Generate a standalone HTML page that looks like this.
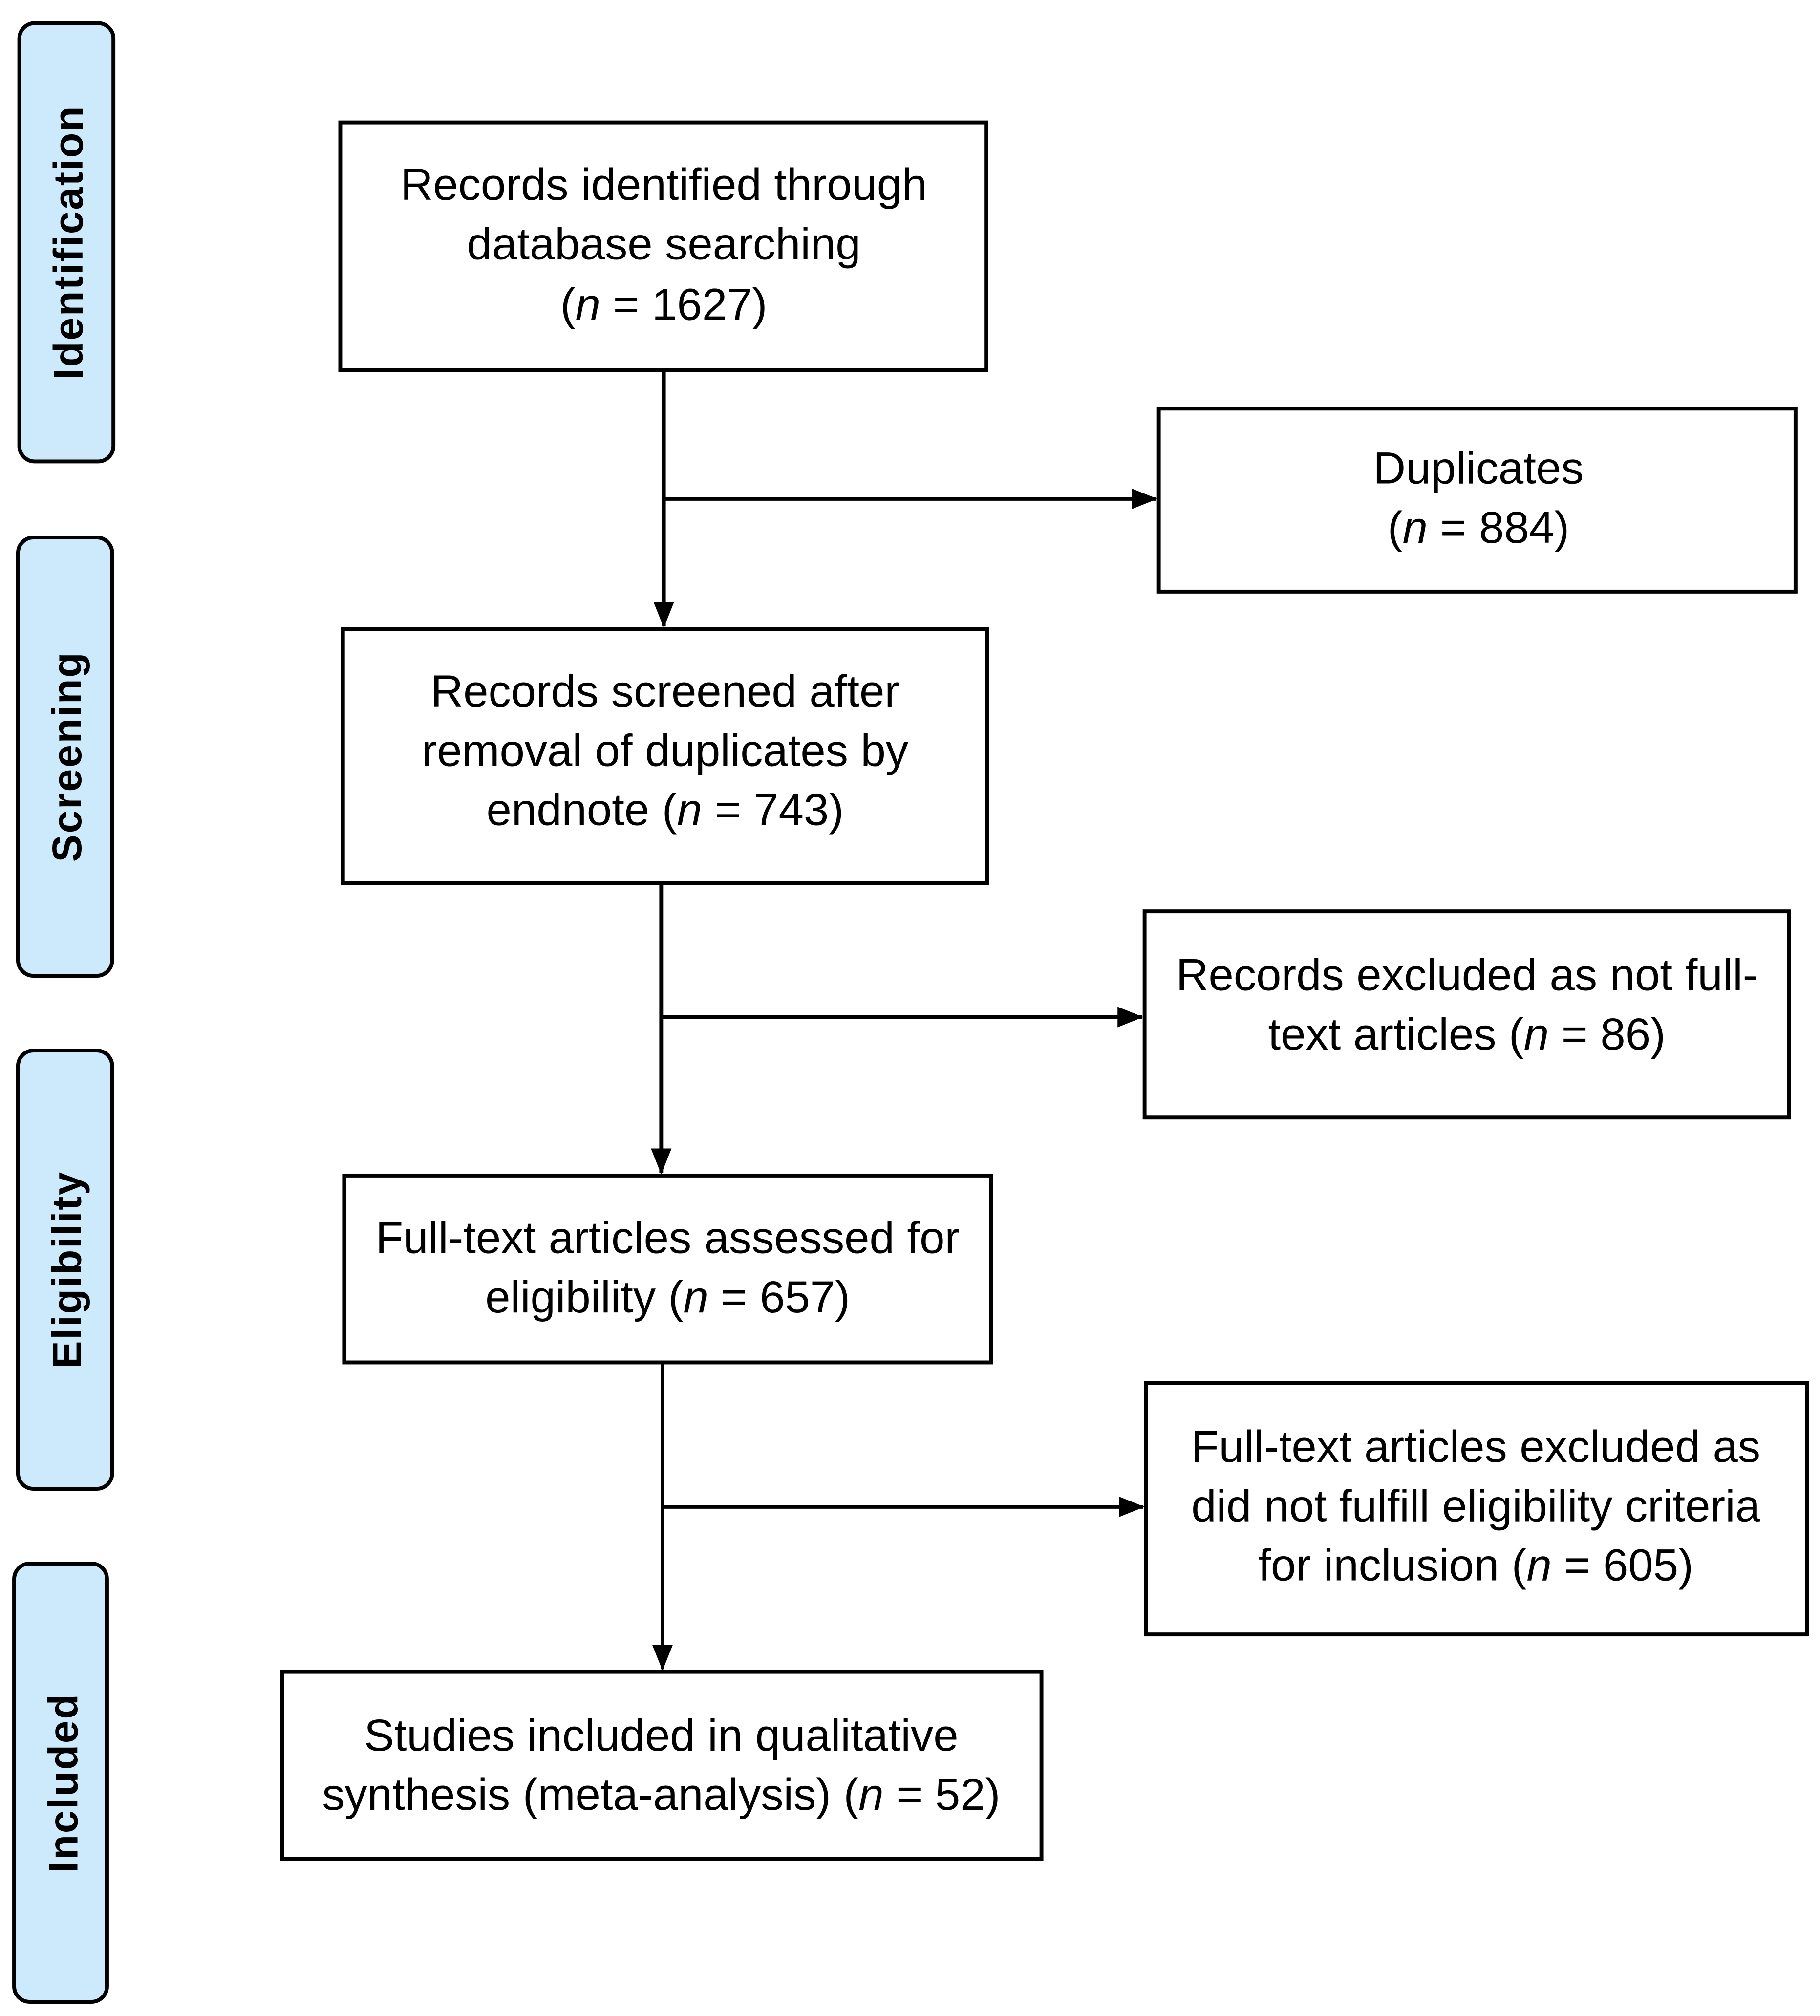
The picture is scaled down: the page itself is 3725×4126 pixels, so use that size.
<!DOCTYPE html>
<html><head><meta charset="utf-8"><style>
html,body{margin:0;padding:0;background:#fff;}
svg{display:block;}
text{font-family:"Liberation Sans",sans-serif;fill:#000;}
</style></head><body>
<svg width="3725" height="4126" viewBox="0 0 1412 1564" preserveAspectRatio="none" xmlns="http://www.w3.org/2000/svg">
<defs>
<marker id="b" markerWidth="20" markerHeight="20" refX="19" refY="8" orient="auto" markerUnits="userSpaceOnUse" viewBox="0 0 20 16"><path d="M0,0 L20,8 L0,16 z" fill="#000"/></marker></defs>
<g fill="#cdeafd" stroke="#000" stroke-width="3">
<rect x="15" y="18" width="73" height="340" rx="12"/>
<rect x="14" y="417" width="73" height="340" rx="12"/>
<rect x="14" y="815" width="73" height="340" rx="12"/>
<rect x="11" y="1213" width="72" height="340" rx="12"/>
</g>
<g font-weight="bold" font-size="32" text-anchor="middle" dominant-baseline="central" letter-spacing="1">
<text transform="translate(53,188) rotate(-90)">Identification</text>
<text transform="translate(52,587) rotate(-90)">Screening</text>
<text transform="translate(52,985) rotate(-90)">Eligibility</text>
<text transform="translate(49,1383) rotate(-90)">Included</text>
</g>
<g fill="#fff" stroke="#000" stroke-width="3">
<rect x="264" y="95" width="501" height="192"/>
<rect x="899" y="317" width="494" height="142"/>
<rect x="266" y="488" width="500" height="197"/>
<rect x="888" y="707" width="500" height="160"/>
<rect x="267" y="912" width="502" height="145"/>
<rect x="889" y="1073" width="513" height="195"/>
<rect x="219" y="1297" width="589" height="145"/>
</g>
<g stroke="#000" stroke-width="3" fill="none">
<line x1="515" y1="287" x2="515" y2="486" marker-end="url(#b)"/>
<line x1="515" y1="387" x2="897" y2="387" marker-end="url(#b)"/>
<line x1="513" y1="685" x2="513" y2="910" marker-end="url(#b)"/>
<line x1="513" y1="789" x2="886" y2="789" marker-end="url(#b)"/>
<line x1="514" y1="1057" x2="514" y2="1295" marker-end="url(#b)"/>
<line x1="514" y1="1169" x2="887" y2="1169" marker-end="url(#b)"/>
</g>
<g font-size="35" text-anchor="middle" dominant-baseline="central">
<text x="515" y="143">Records identified through</text>
<text x="515" y="189">database searching</text>
<text x="515" y="236">(<tspan font-style="italic">n</tspan> = 1627)</text>
<text x="1147" y="363">Duplicates</text>
<text x="1147" y="409">(<tspan font-style="italic">n</tspan> = 884)</text>
<text x="516" y="536">Records screened after</text>
<text x="516" y="582">removal of duplicates by</text>
<text x="516" y="628">endnote (<tspan font-style="italic">n</tspan> = 743)</text>
<text x="1138" y="756">Records excluded as not full-</text>
<text x="1138" y="802">text articles (<tspan font-style="italic">n</tspan> = 86)</text>
<text x="518" y="960">Full-text articles assessed for</text>
<text x="518" y="1006">eligibility (<tspan font-style="italic">n</tspan> = 657)</text>
<text x="1145" y="1122">Full-text articles excluded as</text>
<text x="1145" y="1168">did not fulfill eligibility criteria</text>
<text x="1145" y="1214">for inclusion (<tspan font-style="italic">n</tspan> = 605)</text>
<text x="513" y="1346">Studies included in qualitative</text>
<text x="513" y="1392">synthesis (meta-analysis) (<tspan font-style="italic">n</tspan> = 52)</text>
</g>
</svg>
</body></html>
